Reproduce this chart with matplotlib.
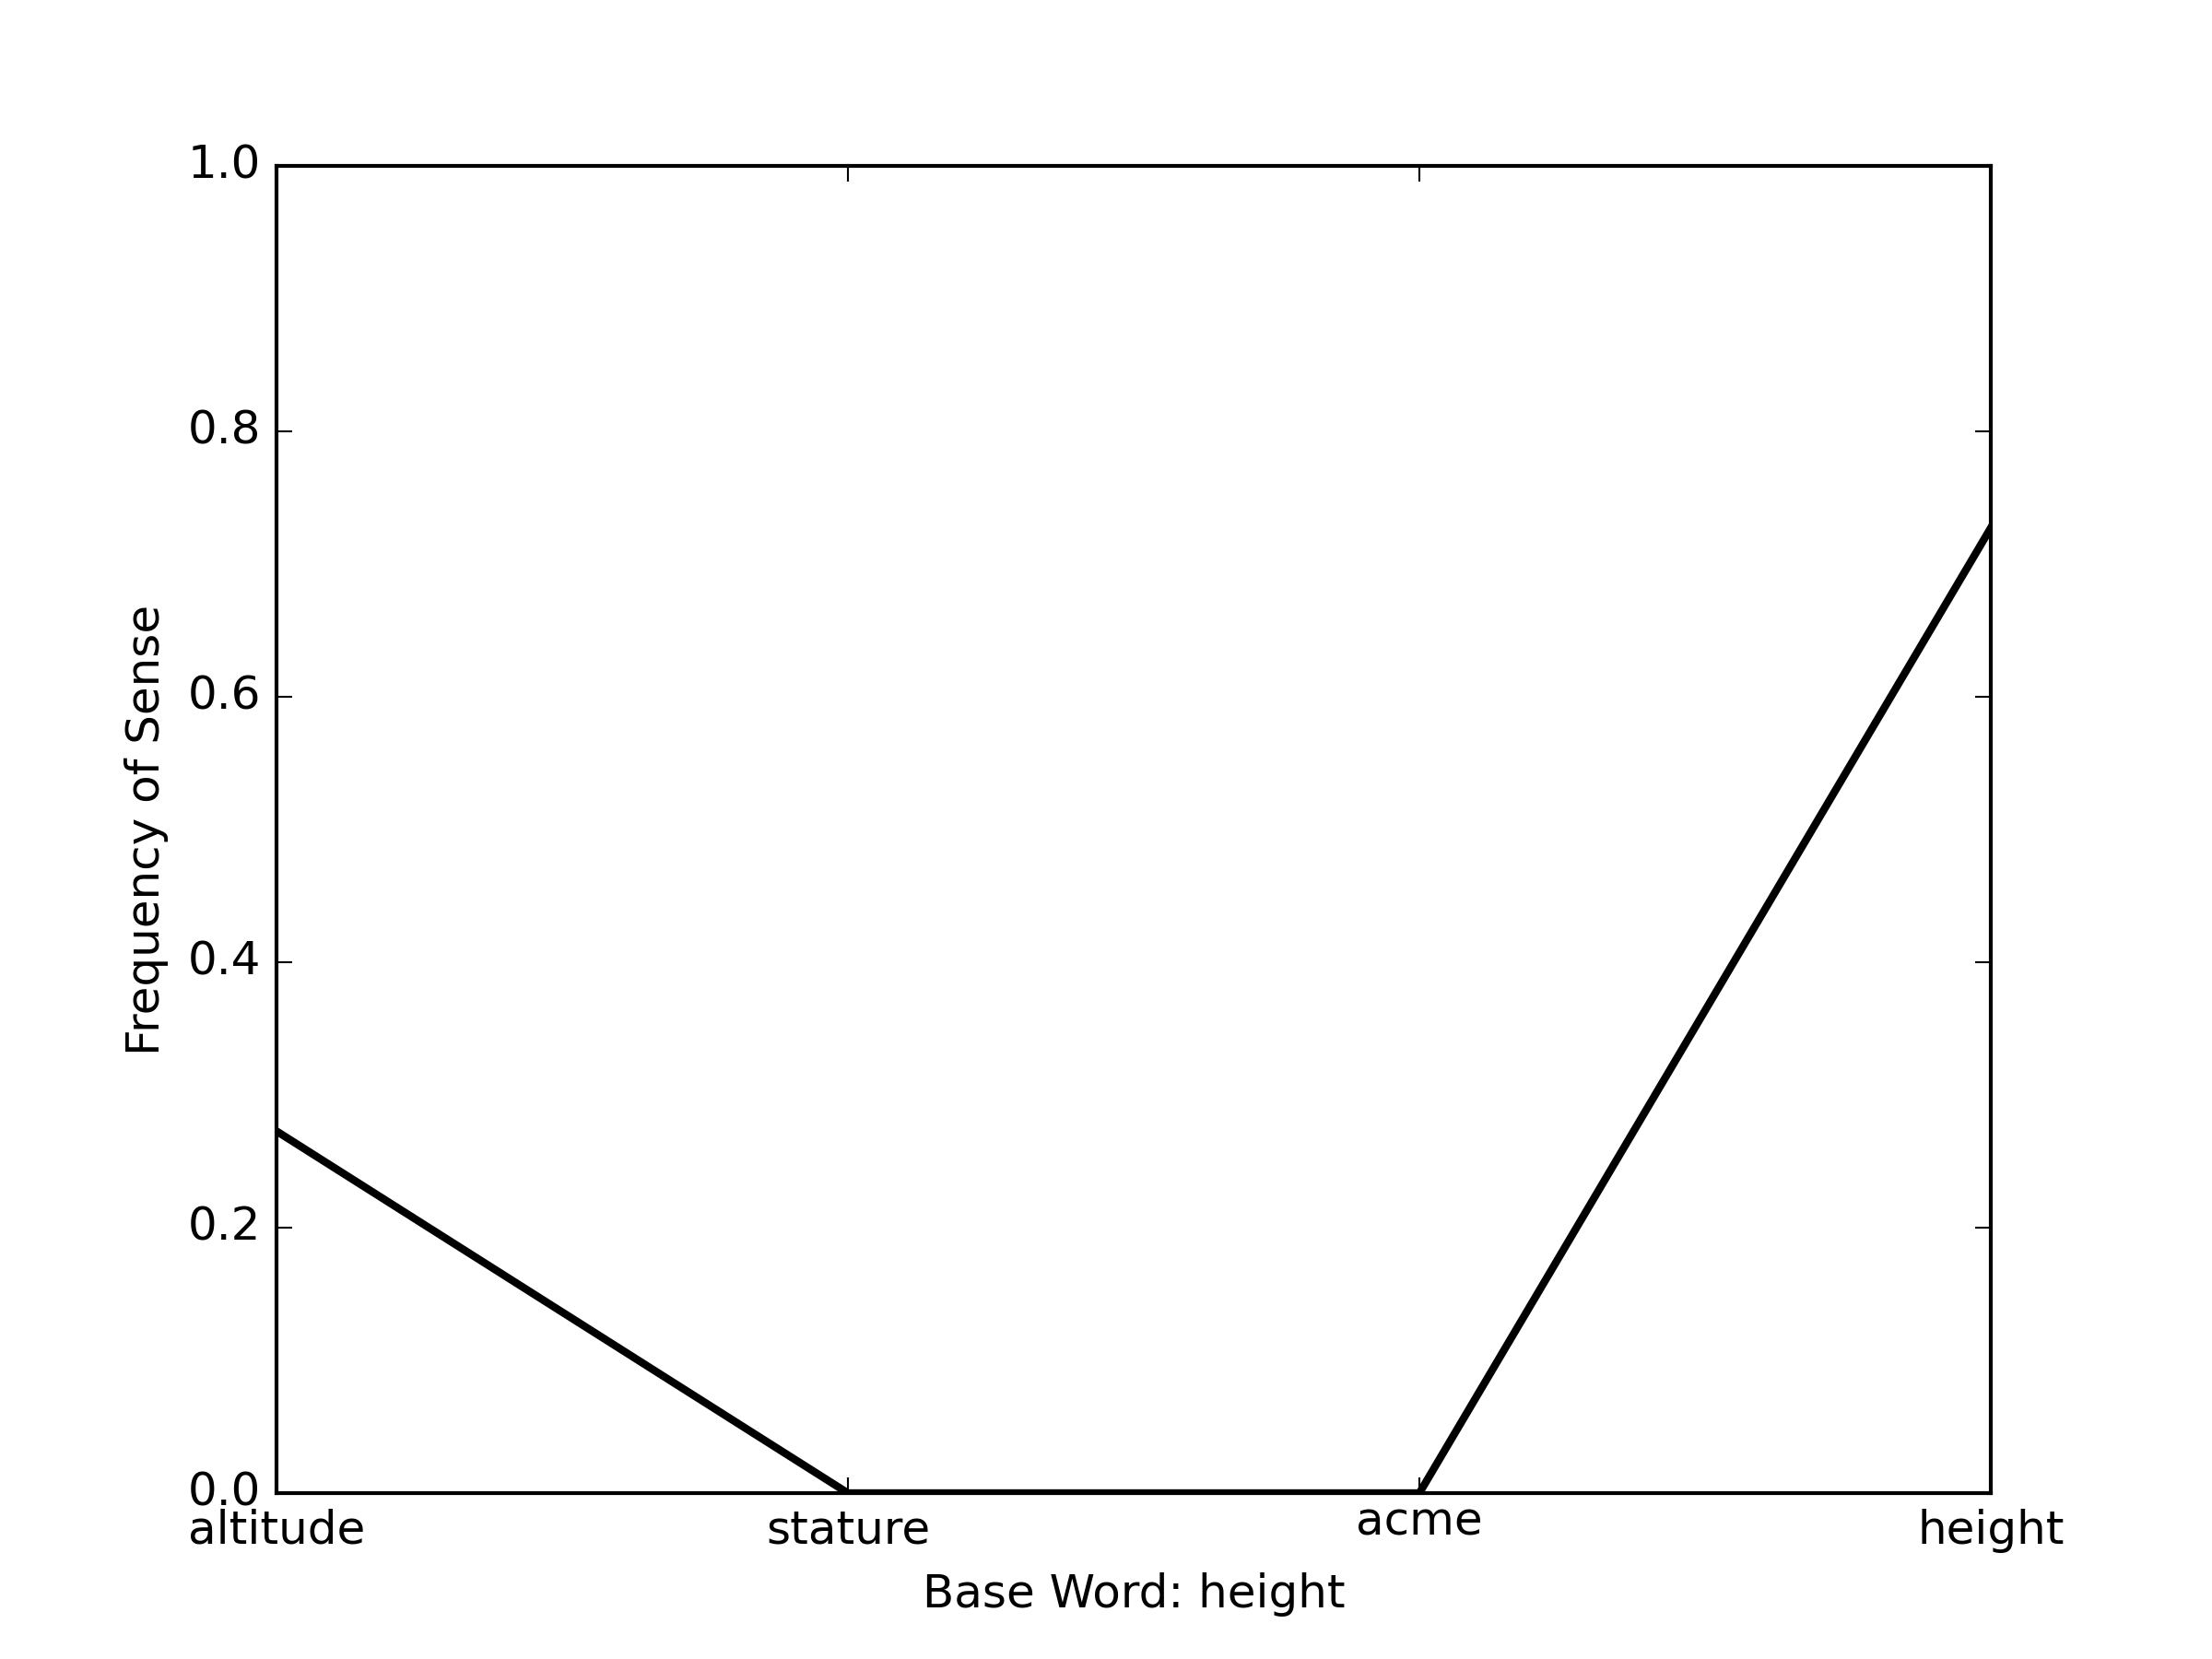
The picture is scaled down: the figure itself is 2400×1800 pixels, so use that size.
import matplotlib
matplotlib.use("Agg")
from matplotlib import pyplot as plt
from matplotlib.transforms import ScaledTranslation

senses = ["altitude", "stature", "acme", "height"]
freqs = [3 / 11, 0.0, 0.0, 8 / 11]

plt.style.use("classic")

fig = plt.figure(figsize=(8, 6))
ax = fig.add_subplot(111)

positions = list(range(len(senses)))
ax.plot(positions, freqs, color="k", linewidth=2)

ax.set_xticks(positions)
ax.set_xticklabels(senses)
ax.set_ylim(0, 1.0)
ax.set_xlim(positions[0], positions[-1])
ax.set_xlabel("Base Word: height")
ax.set_ylabel("Frequency of Sense")

# old renderer aligned labels by ink top, so "acme" sat a bit higher
fig.canvas.draw()
lbl = ax.get_xticklabels()[2]
lbl.set_transform(lbl.get_transform() + ScaledTranslation(0, 2.2 / 72, fig.dpi_scale_trans))

fig.savefig("out.png", dpi=300, facecolor="white")
